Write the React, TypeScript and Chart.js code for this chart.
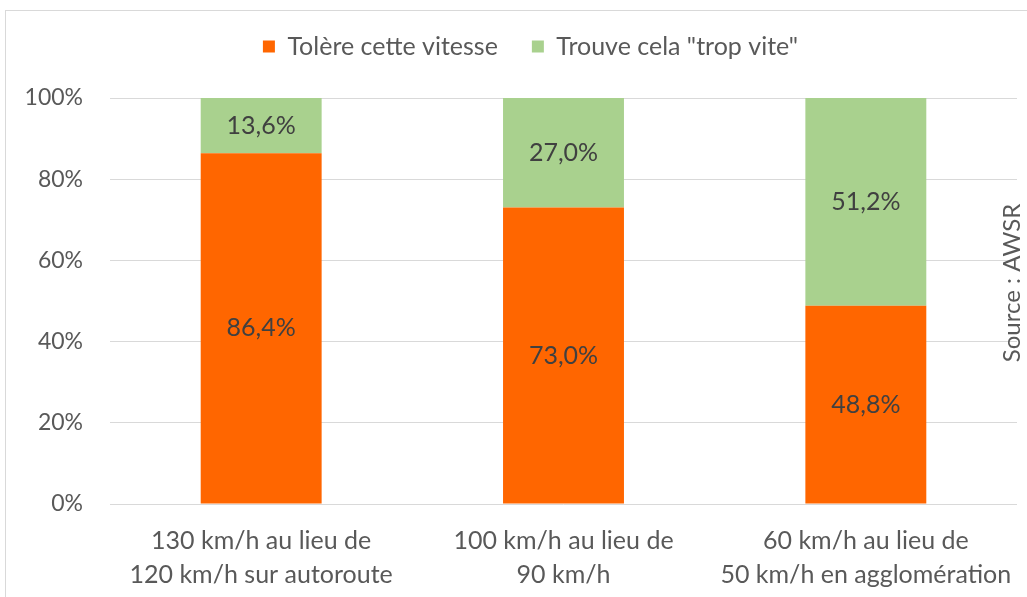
import React, { useEffect, useRef } from "react";
import { Chart, registerables } from "chart.js";

Chart.register(...registerables);

const categories: string[][] = [
  ["130 km/h au lieu de", "120 km/h sur autoroute"],
  ["100 km/h au lieu de", "90 km/h"],
  ["60 km/h au lieu de", "50 km/h en agglomération"],
];
const seriesNames = ["Tolère cette vitesse", 'Trouve cela "trop vite"'];
const tolere = [86.4, 73.0, 48.8];
const tropVite = [13.6, 27.0, 51.2];
const yTickValues = [0, 20, 40, 60, 80, 100];
const sourceText = "Source : AWSR";

const FONT = "Lato";
const TEXT = "#595959";
const LABEL = "#404040";
const FS = 25;

const framePlugin = {
  id: "frame",
  afterLayout(chart: any) {
    const l = chart.legend;
    if (l) {
      l.left += 22;
      l.right += 22;
    }
  },
  beforeDraw(chart: any) {
    const ctx = chart.ctx;
    ctx.save();
    ctx.fillStyle = "#ffffff";
    ctx.fillRect(0, 0, chart.width, chart.height);
    ctx.strokeStyle = "#D9D9D9";
    ctx.lineWidth = 1;
    ctx.strokeRect(5.5, 10.5, chart.width + 20, chart.height + 20);
    ctx.restore();
  },
};

const labelsPlugin = {
  id: "barLabels",
  afterDatasetsDraw(chart: any) {
    const ctx = chart.ctx;
    ctx.save();
    ctx.font = `${FS}px ${FONT}`;
    ctx.fillStyle = LABEL;
    ctx.textAlign = "center";
    ctx.textBaseline = "middle";
    chart.data.datasets.forEach((ds: any, di: number) => {
      const meta = chart.getDatasetMeta(di);
      meta.data.forEach((el: any, i: number) => {
        const v = ds.data[i] as number;
        const y = (el.y + el.base) / 2;
        ctx.fillText(v.toFixed(1).replace(".", ",") + "%", el.x, y);
      });
    });
    ctx.restore();
  },
  afterDraw(chart: any) {
    const ctx = chart.ctx;
    ctx.save();
    ctx.font = `24px ${FONT}`;
    ctx.fillStyle = TEXT;
    ctx.textAlign = "center";
    ctx.textBaseline = "middle";
    ctx.translate(1012, 283);
    ctx.rotate(-Math.PI / 2);
    ctx.fillText(sourceText, 0, 0);
    ctx.restore();
  },
};

export default function App() {
  const ref = useRef<HTMLCanvasElement | null>(null);
  useEffect(() => {
    if (!ref.current) return;
    const chart = new Chart(ref.current, {
      type: "bar",
      data: {
        labels: categories,
        datasets: [
          {
            label: seriesNames[0],
            data: tolere,
            backgroundColor: "#FF6600",
            categoryPercentage: 1,
            barPercentage: 0.4,
          },
          {
            label: seriesNames[1],
            data: tropVite,
            backgroundColor: "#A9D18E",
            categoryPercentage: 1,
            barPercentage: 0.4,
          },
        ],
      },
      options: {
        animation: false,
        responsive: false,
        layout: { padding: { left: 0, right: 10, top: 0, bottom: 0 } },
        plugins: {
          legend: {
            position: "top",
            labels: {
              boxWidth: 12,
              boxHeight: 12,
              padding: 34,
              color: TEXT,
              font: { family: FONT, size: FS },
            },
          },
          title: {
            display: true,
            text: "",
            weight: 500,
            font: { size: 10, lineHeight: 1 },
            padding: { top: 19, bottom: 0 },
          } as any,
          tooltip: { enabled: false },
        },
        scales: {
          x: {
            stacked: true,
            grid: { display: false, drawTicks: false },
            border: { display: false },
            ticks: {
              color: TEXT,
              padding: 20,
              font: { family: FONT, size: FS, lineHeight: 34 / FS },
              maxRotation: 0,
            },
            afterFit(scale: any) {
              scale.height = 93;
              scale.paddingLeft = 0;
              scale.paddingRight = 0;
            },
          },
          y: {
            stacked: true,
            min: 0,
            max: 100,
            grid: { color: "#D9D9D9", drawTicks: false, lineWidth: 1 },
            border: { display: false },
            afterBuildTicks(scale: any) {
              scale.ticks = yTickValues.map((v) => ({ value: v }));
            },
            ticks: {
              color: TEXT,
              padding: 27,
              font: { family: FONT, size: 23 },
              callback: (v: any) => v + "%",
            },
            afterFit(scale: any) {
              scale.width = 110;
            },
          },
        },
      },
      plugins: [framePlugin, labelsPlugin],
    });
    return () => chart.destroy();
  }, []);
  return (
    <div style={{ position: "fixed", left: 0, top: 0, width: 1027, height: 597 }}>
      <canvas ref={ref} width={1027} height={597} />
    </div>
  );
}
